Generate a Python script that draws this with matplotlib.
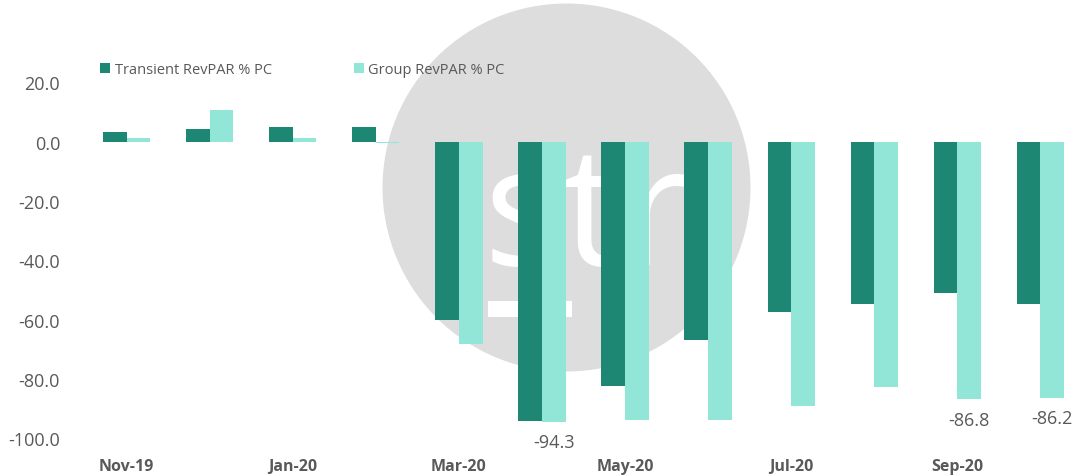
import matplotlib
matplotlib.use("Agg")
import matplotlib.pyplot as plt
import numpy as np
from matplotlib.patches import Ellipse, Rectangle

months = ["Nov-19", "Dec-19", "Jan-20", "Feb-20", "Mar-20", "Apr-20",
          "May-20", "Jun-20", "Jul-20", "Aug-20", "Sep-20", "Oct-20"]
transient = [3.3, 4.3, 4.8, 4.8, -60.0, -94.2, -82.4, -66.7, -57.5, -54.6, -51.1, -54.6]
group = [1.2, 10.8, 1.2, -0.6, -68.3, -94.3, -93.8, -93.8, -89.2, -82.8, -86.8, -86.2]
labelled = {5: "-94.3", 10: "-86.8", 11: "-86.2"}
yticks = [20, 0, -20, -40, -60, -80, -100]

W, H = 1079, 477
fig = plt.figure(figsize=(W / 100, H / 100), dpi=100)
fig.patch.set_facecolor("white")

# watermark
cx, cy, r = 566.5, 188.5, 184
fig.patches.append(Ellipse((cx / W, 1 - cy / H), 2 * r / W, 2 * r / H,
                           transform=fig.transFigure, facecolor="#dddddd",
                           edgecolor="none", zorder=0))
fig.text(484 / W, 1 - 265 / H, "str", color="white", fontsize=120,
         family="Open Sans", ha="left", va="baseline", zorder=0.5)
fig.patches.append(Rectangle((488 / W, 1 - 318 / H), 84 / W, 16 / H,
                             transform=fig.transFigure, facecolor="white",
                             edgecolor="none", zorder=0.6))

left, right = 85 / W, 1082 / W
bottom, top = 1 - 439.5 / H, 1 - 83.3 / H
ax = fig.add_axes([left, bottom, right - left, top - bottom], zorder=2)
ax.patch.set_alpha(0)

x = np.arange(len(months))
bw = 0.285
c1, c2 = "#1e8774", "#91e6d8"
ax.bar(x - bw / 2, transient, bw, color=c1, label="Transient RevPAR % PC")
ax.bar(x + bw / 2, group, bw, color=c2, label="Group RevPAR % PC")

gray = "#595959"
for i, t in labelled.items():
    ax.annotate(t, (x[i] + bw / 2, group[i]), xytext=(0, -15),
                textcoords="offset points", ha="center", va="center",
                fontsize=13, color=gray, family="Open Sans", annotation_clip=False)

ax.set_xlim(-0.5, len(months) - 0.5)
ax.set_ylim(-100, 20)
ax.set_yticks(yticks)
ax.set_yticklabels([f"{v:.1f}" for v in yticks], family="Open Sans",
                   fontsize=13, color=gray)
ax.set_xticks(x[::2])
ax.set_xticklabels(months[::2], family="Open Sans", fontsize=11.5,
                   fontweight="bold", color=gray)
ax.tick_params(axis="y", length=0, pad=18)
ax.tick_params(axis="x", length=0, pad=14)
for s in ax.spines.values():
    s.set_visible(False)

fig.legend(loc="upper left", bbox_to_anchor=(87 / W, 1 - 50 / H), ncol=2,
           frameon=False, handlelength=0.7, handleheight=0.7, handletextpad=0.3,
           columnspacing=5.6, prop={"family": "Open Sans", "size": 10.5},
           labelcolor=gray)

fig.savefig("out.png", dpi=100)
